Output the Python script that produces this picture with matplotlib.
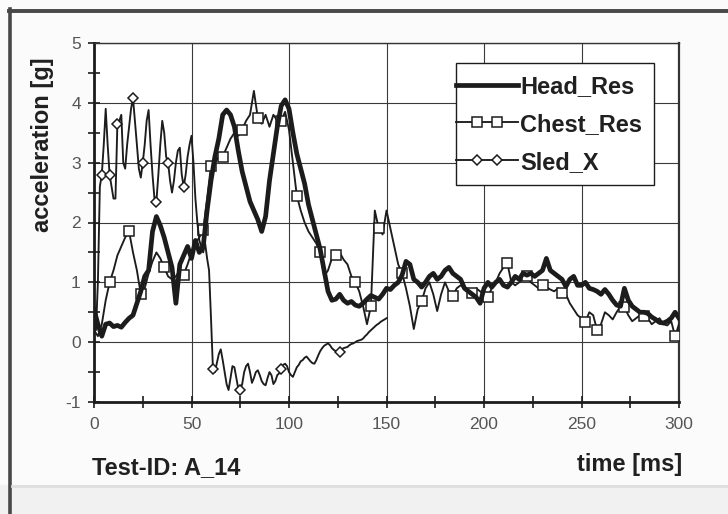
import numpy as np
import matplotlib
matplotlib.use("Agg")
import matplotlib.pyplot as plt
from matplotlib.lines import Line2D
from matplotlib.patches import Rectangle
from matplotlib.legend_handler import HandlerLine2D

plt.rcParams['font.family'] = ['Liberation Sans', 'DejaVu Sans']
plt.rcParams['axes.unicode_minus'] = False

# time bases [ms]
t_res = np.arange(0, 301, 2)
t_sled = np.arange(0, 151, 1)

# resultant head acceleration [g], every 2 ms
head_res = [
    0.55, 0.30, 0.10, 0.30, 0.32, 0.26, 0.28, 0.25, 0.33, 0.40,
    0.45, 0.65, 0.85, 1.10, 1.20, 1.85, 2.10, 1.95, 1.75, 1.50,
    1.25, 0.65, 1.30, 1.45, 1.60, 1.40, 1.70, 1.50, 1.60, 2.20,
    2.70, 3.10, 3.40, 3.80, 3.88, 3.80, 3.60, 3.20, 2.85, 2.60,
    2.35, 2.20, 2.05, 1.85, 2.10, 2.70, 3.15, 3.60, 3.95, 4.05,
    3.90, 3.50, 3.15, 2.90, 2.65, 2.30, 2.05, 1.80, 1.55, 1.20,
    0.85, 0.70, 0.72, 0.80, 0.70, 0.65, 0.68, 0.62, 0.60, 0.65,
    0.72, 0.78, 0.75, 0.72, 0.80, 0.90, 0.88, 0.95, 1.00, 1.12,
    1.35, 1.30, 1.05, 1.00, 0.92, 1.00, 1.10, 1.15, 1.05, 1.10,
    1.20, 1.25, 1.15, 1.10, 1.05, 0.90, 0.85, 0.80, 0.75, 0.65,
    0.90, 1.00, 0.92, 1.00, 1.05, 0.95, 0.92, 1.00, 1.10, 1.05,
    1.15, 1.12, 1.15, 1.10, 1.15, 1.20, 1.40, 1.20, 1.15, 1.10,
    1.05, 0.93, 1.05, 1.10, 0.95, 0.95, 1.00, 0.90, 0.88, 0.85,
    0.80, 0.88, 0.80, 0.70, 0.62, 0.60, 0.90, 0.70, 0.60, 0.55,
    0.50, 0.50, 0.48, 0.42, 0.38, 0.33, 0.32, 0.35, 0.40, 0.50,
    0.40,
]

# resultant chest acceleration [g], every 2 ms
chest_res = [
    0.20, 0.10, 0.30, 0.70, 1.00, 1.20, 1.45, 1.60, 1.75, 1.85,
    1.50, 1.20, 0.80, 0.90, 1.15, 1.35, 1.50, 1.40, 1.25, 1.10,
    1.05, 1.10, 1.20, 1.13, 1.30, 1.50, 1.65, 1.75, 1.87, 2.40,
    2.95, 3.00, 3.10, 3.10, 3.25, 3.40, 3.50, 3.45, 3.55, 3.70,
    3.80, 4.20, 3.75, 3.65, 3.80, 3.60, 3.80, 3.70, 3.70, 3.85,
    3.55, 3.00, 2.45, 2.20, 2.00, 1.85, 1.75, 1.65, 1.50, 1.10,
    1.20, 1.40, 1.45, 1.50, 1.38, 1.30, 1.10, 1.00, 0.85, 0.60,
    0.30, 0.60, 2.20, 1.90, 1.80, 2.20, 1.90, 1.60, 1.30, 1.15,
    0.90, 0.60, 0.22, 0.55, 0.68, 0.90, 1.00, 0.80, 0.52, 0.80,
    1.00, 0.85, 0.77, 0.90, 0.95, 0.90, 0.85, 0.83, 0.90, 0.85,
    0.80, 0.76, 0.90, 1.00, 1.15, 1.25, 1.32, 1.00, 0.95, 1.00,
    1.05, 1.10, 1.00, 0.95, 0.90, 0.96, 0.92, 0.88, 0.85, 0.90,
    0.83, 0.80, 0.65, 0.55, 0.45, 0.40, 0.34, 0.50, 0.45, 0.20,
    0.30, 0.50, 0.45, 0.38, 0.50, 0.60, 0.59, 0.45, 0.35, 0.40,
    0.45, 0.43, 0.40, 0.30, 0.35, 0.40, 0.30, 0.28, 0.35, 0.10,
    0.30,
]

# sled acceleration x [g], every 1 ms
sled_x = [
    0.30, 0.20, 1.00, 2.60, 2.80, 3.30, 3.90, 3.30, 2.80, 2.60,
    2.40, 2.40, 3.65, 3.70, 3.80, 3.00, 2.90, 3.30, 3.60, 3.90,
    4.08, 3.70, 3.30, 2.90, 2.75, 3.00, 3.30, 3.70, 3.88, 3.30,
    2.80, 2.40, 2.35, 2.80, 3.30, 3.70, 3.50, 3.10, 3.00, 2.70,
    2.50, 2.70, 3.00, 3.20, 3.25, 2.80, 2.60, 2.80, 3.10, 3.30,
    3.45, 3.00, 2.40, 2.00, 1.70, 1.60, 1.50, 1.65, 1.40, 1.20,
    0.40, -0.45, -0.50, -0.35, -0.20, -0.12, -0.30, -0.50, -0.70, -0.80,
    -0.60, -0.40, -0.42, -0.60, -0.78, -0.80, -0.70, -0.50, -0.40, -0.36,
    -0.50, -0.68, -0.60, -0.50, -0.47, -0.55, -0.65, -0.70, -0.72, -0.60,
    -0.50, -0.55, -0.70, -0.65, -0.55, -0.52, -0.45, -0.38, -0.36, -0.40,
    -0.50, -0.55, -0.58, -0.50, -0.42, -0.38, -0.32, -0.30, -0.26, -0.24,
    -0.28, -0.32, -0.35, -0.36, -0.30, -0.22, -0.15, -0.10, -0.06, -0.04,
    -0.02, -0.05, -0.10, -0.13, -0.15, -0.17, -0.16, -0.12, -0.10, -0.09,
    -0.08, -0.05, -0.03, -0.02, 0.00, 0.02, 0.03, 0.04, 0.06, 0.10,
    0.13, 0.17, 0.20, 0.23, 0.26, 0.29, 0.31, 0.34, 0.36, 0.38,
    0.40,
]

# times [ms] where the original chart shows a marker
chest_mark_t = [8.5, 18.3, 24.6, 36.5, 46, 55.7, 60.3, 66.7, 75.7, 84.6, 95.7,
                104, 115.5, 123.6, 134.7, 142.9, 146.7, 157.8, 167.8, 183.2,
                193.5, 202.5, 211.6, 221.4, 230.8, 241, 251.6, 258.9, 271.8,
                282.9, 299]
sled_mark_t = [3.7, 8.5, 12, 20.2, 25.3, 31.6, 37.6, 45.8, 61, 75.3, 95.7, 126]


def nearest_idx(t, marks):
    """ index of the sample closest to each marker time """
    return [int(np.argmin(np.abs(t - m))) for m in marks]


class HandlerTwoMarks(HandlerLine2D):
    """ legend line running from the frame edge with two markers in the middle """

    def create_artists(self, legend, orig_handle, xdescent, ydescent,
                       width, height, fontsize, trans):
        left = -xdescent - legend.borderpad * fontsize
        right = -xdescent + width
        x = left + (right - left) * np.array([0.0, 0.34, 0.66, 1.0])
        y = np.full_like(x, (height - ydescent) / 2)
        line = Line2D(x, y)
        self.update_prop(line, orig_handle, legend)
        line.set_markevery([1, 2])
        line.set_transform(trans)
        return [line]


fig = plt.figure(figsize=(7.28, 5.14), dpi=100)
fig.patch.set_facecolor('#fbfbfb')

# scanned page frame
fig.add_artist(Rectangle((0, 0), 1, 0.056, transform=fig.transFigure,
                         color='#f1f1f1', zorder=0))
fig.add_artist(Line2D([10 / 728, 10 / 728], [0, 1 - 8.5 / 514], transform=fig.transFigure,
                      color='#484848', lw=2.6))
fig.add_artist(Line2D([8.5 / 728, 1], [1 - 10.5 / 514, 1 - 10.5 / 514], transform=fig.transFigure,
                      color='#484848', lw=2.8))
fig.add_artist(Line2D([12 / 728, 1], [1 - 486 / 514, 1 - 486 / 514], transform=fig.transFigure,
                      color='#dedede', lw=2.0))

ax = fig.add_axes([94 / 728, 1 - 402 / 514, 585 / 728, 359 / 514])
ax.set_facecolor('white')

ink = '#1c1c1c'
ax.plot(t_res, head_res, color=ink, lw=3.4, label='Head_Res', zorder=4)
ax.plot(t_res, chest_res, color=ink, lw=1.35, marker='s', ms=6.5, mfc='white',
        mec=ink, mew=1.1, markevery=nearest_idx(t_res, chest_mark_t),
        label='Chest_Res', zorder=3)
ax.plot(t_sled, sled_x, color=ink, lw=1.35, marker='D', ms=4.8, mfc='white',
        mec=ink, mew=1.1, markevery=nearest_idx(t_sled, sled_mark_t),
        label='Sled_X', zorder=3)

ax.set_xlim(0, 300)
ax.set_ylim(-1, 5)
ax.set_xticks(np.arange(0, 301, 50))
ax.set_xticks(np.arange(25, 300, 50), minor=True)
ax.set_yticks(np.arange(-1, 6, 1))
ax.set_yticks(np.arange(-0.5, 5, 1), minor=True)
ax.set_axisbelow(True)
ax.grid(True, which='major', color='#3a3a3a', lw=0.8)

ax.tick_params(which='both', direction='inout', length=8, width=1.2, color=ink)
ax.tick_params(axis='x', which='major', pad=6.5, labelsize=12.5, labelcolor='#555555')
ax.tick_params(axis='y', which='major', pad=5.5, labelsize=12.5, labelcolor='#555555')

for side in ['left', 'bottom']:
    ax.spines[side].set_linewidth(2.0)
    ax.spines[side].set_color(ink)
ax.spines['top'].set_linewidth(1.0)
ax.spines['top'].set_color('#333333')
ax.spines['right'].set_linewidth(1.6)
ax.spines['right'].set_color('#333333')

handler = HandlerTwoMarks()
leg = ax.legend(loc='upper left', bbox_to_anchor=(456 / 728, 1 - 63 / 514),
                bbox_transform=fig.transFigure, prop={'weight': 'bold', 'size': 17},
                frameon=True, fancybox=False, framealpha=1, edgecolor=ink,
                borderpad=0.5, borderaxespad=0, handlelength=2.12,
                handletextpad=0.11, labelspacing=0.63,
                handler_map={Line2D: handler})
leg.get_frame().set_linewidth(1.0)
leg.set_zorder(6)
for txt in leg.get_texts():
    txt.set_color('#202020')

fig.text(43 / 728, 1 - 145 / 514, 'acceleration [g]', rotation=90, ha='center',
         va='center', fontsize=17, fontweight='bold', color='#202020')
fig.text(92 / 728, 1 - 468 / 514, 'Test-ID: A_14', ha='left', va='center',
         fontsize=17, fontweight='bold', color='#202020')
fig.text(682 / 728, 1 - 464 / 514, 'time [ms]', ha='right', va='center',
         fontsize=17, fontweight='bold', color='#202020')

fig.savefig('out.png', dpi=100, facecolor=fig.get_facecolor())
